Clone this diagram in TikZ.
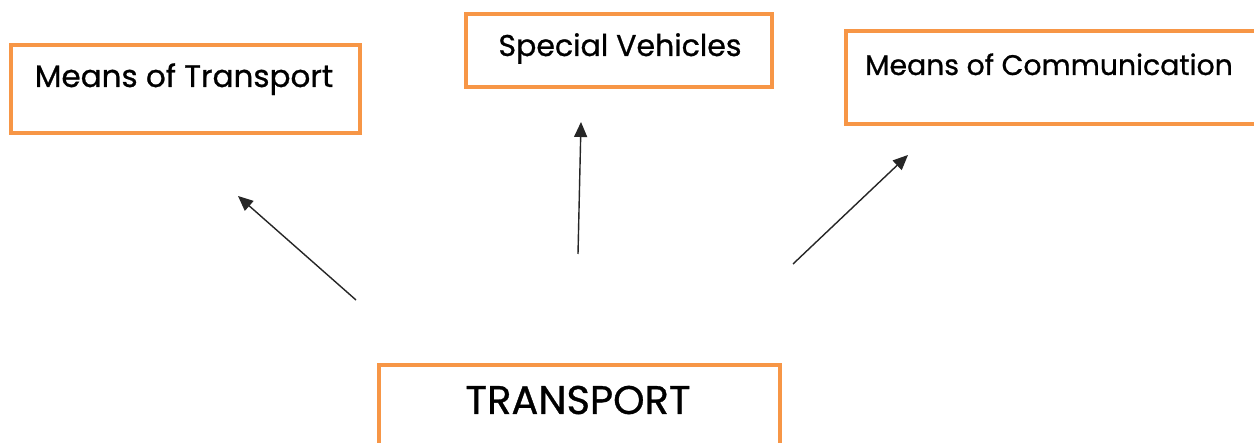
\documentclass[tikz,border=0pt]{standalone}
\usepackage{fontspec}
\setmainfont{Poppins}[FakeBold=0.8]
\usetikzlibrary{arrows.meta}
\definecolor{boxorange}{HTML}{F79646}
\definecolor{arrowgray}{HTML}{262626}
\begin{document}
\begin{tikzpicture}[x=1pt,y=-1pt,
  box/.style={draw=boxorange, line width=4pt, rectangle, inner sep=0pt, outer sep=0pt},
  lbl/.style={anchor=base, inner sep=0pt, font=\fontsize{30}{36}\selectfont},
  big/.style={anchor=base, inner sep=0pt, font=\fontsize{40}{48}\selectfont},
  conn/.style={draw=arrowgray, line width=1.4pt, -{Triangle[length=15pt,width=13pt]}}]
\useasboundingbox (0,0) rectangle (1254,443);
\fill[white] (0,0) rectangle (1254,443);
% boxes
\node[box, minimum width=349pt, minimum height=88pt] (mot) at (185.5,89) {};
\node[box, minimum width=306pt, minimum height=73pt] (sv) at (619,50.5) {};
\node[box, minimum width=412pt, minimum height=93pt] (moc) at (1052,77.5) {};
\node[box, minimum width=401pt, minimum height=85pt] (tr) at (579.5,407.5) {};
% labels
\node[lbl, font=\fontsize{31}{36}\selectfont] (motl) at (184,87) {Means of Transport};
\node[lbl] (svl) at (620,56) {Special Vehicles};
\node[lbl, font=\fontsize{28.3}{34}\selectfont] (mocl) at (1049,75) {Means of Communication};
\node[big] (trl) at (578,414) {TRANSPORT};
% arrow ends
\coordinate (s1) at (356,300); \coordinate (e1) at (238,196);
\coordinate (s2) at (578,254); \coordinate (e2) at (581,122);
\coordinate (s3) at (793,264); \coordinate (e3) at (908,155);
\draw[conn] (s1) -- (e1);
\draw[conn] (s2) -- (e2);
\draw[conn] (s3) -- (e3);
\end{tikzpicture}
\end{document}
